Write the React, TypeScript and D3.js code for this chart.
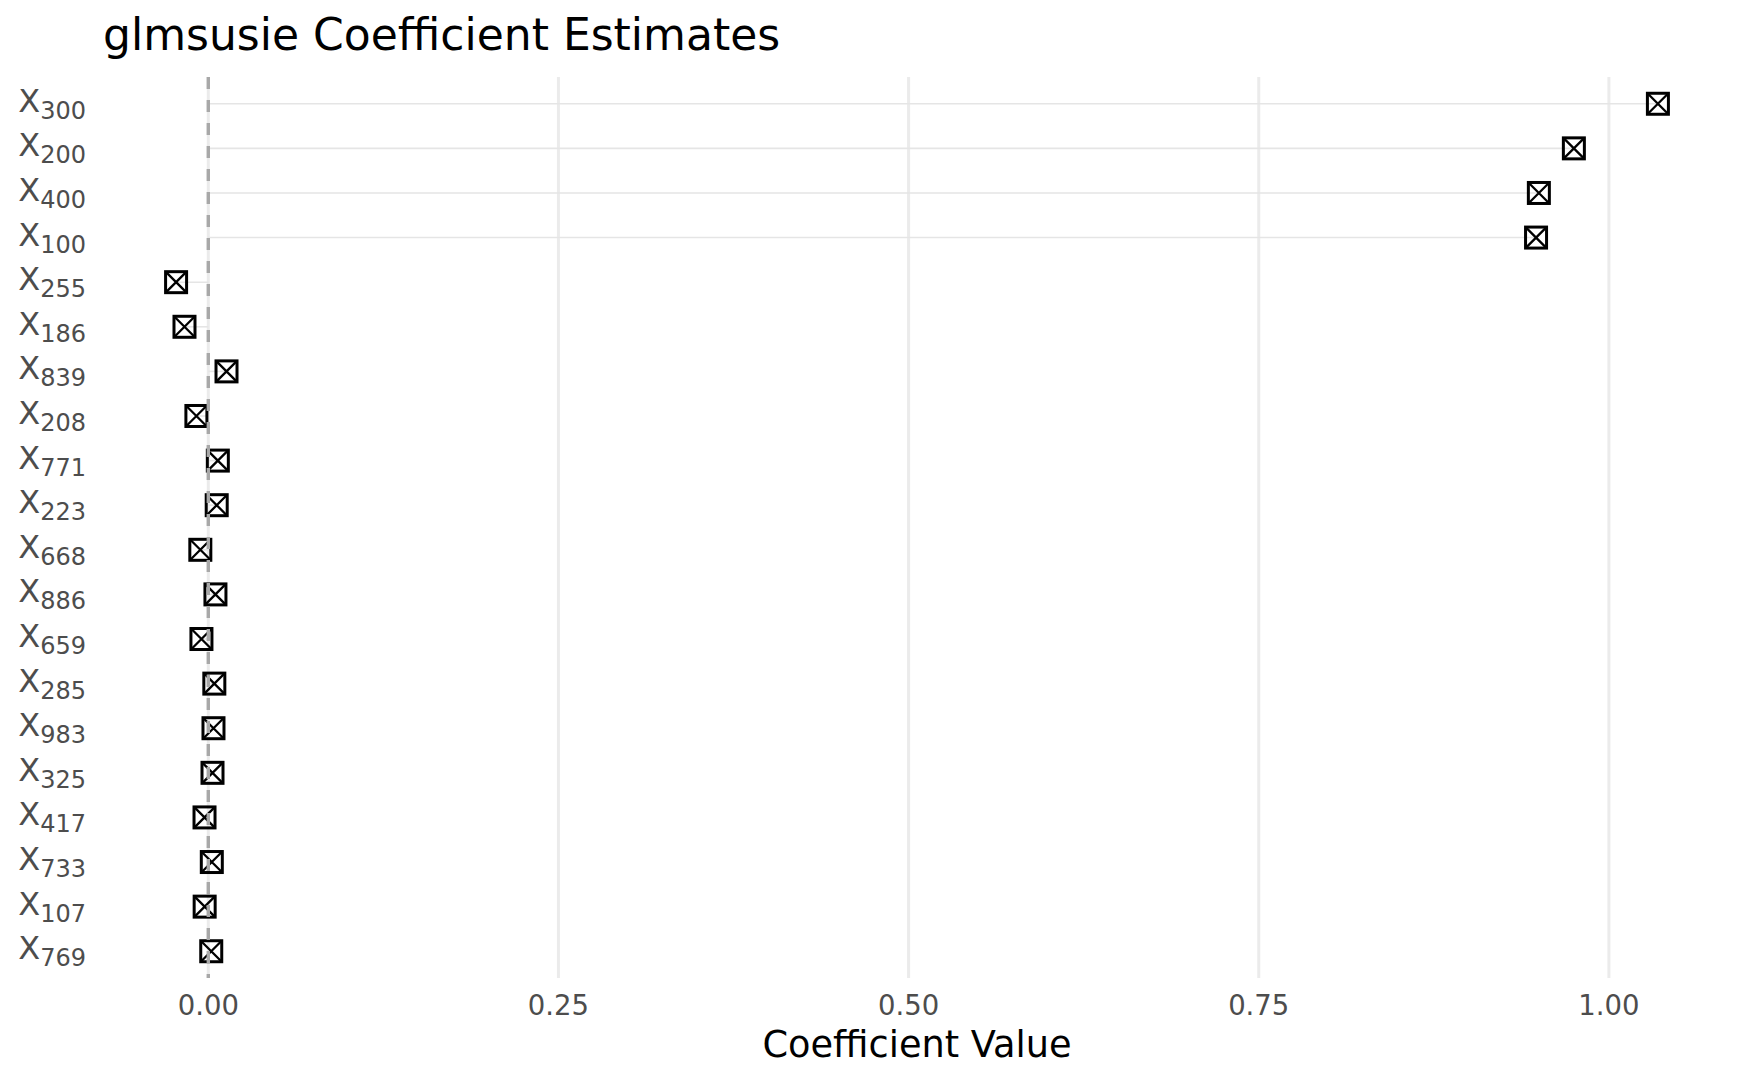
import React, { useEffect, useRef } from 'react';
import * as d3 from 'd3';

// variables, top to bottom
const variables = ['300', '200', '400', '100', '255', '186', '839', '208', '771', '223',
  '668', '886', '659', '285', '983', '325', '417', '733', '107', '769'];

const estimates = [1.035, 0.975, 0.950, 0.948, -0.023, -0.017, 0.013, -0.0085, 0.0068, 0.0060,
  -0.0057, 0.0051, -0.0049, 0.0043, 0.0037, 0.0030, -0.0027, 0.0025, -0.0026, 0.0021];

const xTicks = [0, 0.25, 0.5, 0.75, 1.0];

const W = 1750;
const H = 1081;

const CoefPlot: React.FC = () => {
  const svgRef = useRef<SVGSVGElement>(null);

  useEffect(() => {
    if (!svgRef.current) return;
    document.body.style.margin = '0';

    const left = 102;
    const right = 1732;
    const top = 77;
    const bottom = 978;

    const svg = d3.select(svgRef.current);
    svg.selectAll('*').remove();

    const lo = Math.min(0, d3.min(estimates)!);
    const hi = Math.max(0, d3.max(estimates)!);
    const pad = (hi - lo) * 0.05;

    const x = d3.scaleLinear().domain([lo - pad, hi + pad]).range([left, right]);
    const y = d3.scalePoint<string>().domain(variables).range([top, bottom]).padding(0.6);

    // vertical grid
    svg.append('g')
      .selectAll('line')
      .data(xTicks)
      .join('line')
      .attr('x1', d => x(d)).attr('x2', d => x(d))
      .attr('y1', top).attr('y2', bottom)
      .attr('stroke', '#EBEBEB')
      .attr('stroke-width', 3);

    // segments from zero
    svg.append('g')
      .selectAll('line')
      .data(variables)
      .join('line')
      .attr('x1', x(0))
      .attr('x2', (_, i) => x(estimates[i]))
      .attr('y1', d => y(d)!)
      .attr('y2', d => y(d)!)
      .attr('stroke', '#E5E5E5')
      .attr('stroke-width', 1.6);

    // square-cross markers
    const s = 10.5;
    const pts = svg.append('g')
      .selectAll('g')
      .data(variables)
      .join('g')
      .attr('transform', (d, i) => `translate(${x(estimates[i])},${y(d)})`);
    pts.append('rect')
      .attr('x', -s).attr('y', -s)
      .attr('width', 2 * s).attr('height', 2 * s)
      .attr('fill', 'none')
      .attr('stroke', '#000')
      .attr('stroke-width', 3);
    pts.append('path')
      .attr('d', `M${-s},${-s}L${s},${s}M${-s},${s}L${s},${-s}`)
      .attr('stroke', '#000')
      .attr('stroke-width', 2.3);

    // zero reference line
    svg.append('line')
      .attr('x1', x(0)).attr('x2', x(0))
      .attr('y1', top).attr('y2', bottom)
      .attr('stroke', '#A8A8A8')
      .attr('stroke-width', 3.4)
      .attr('stroke-dasharray', '12 11');

    // y labels with subscripts
    const yl = svg.append('g')
      .selectAll('text')
      .data(variables)
      .join('text')
      .attr('x', 86)
      .attr('y', d => y(d)! + 8)
      .attr('text-anchor', 'end')
      .attr('fill', '#4D4D4D')
      .style('font-family', 'DejaVu Sans')
      .style('font-size', '32px');
    yl.append('tspan').text('X');
    yl.append('tspan')
      .attr('dy', 7)
      .style('font-size', '24px')
      .text(d => d);

    // x tick labels
    svg.append('g')
      .selectAll('text')
      .data(xTicks)
      .join('text')
      .attr('x', d => x(d))
      .attr('y', 1015)
      .attr('text-anchor', 'middle')
      .attr('fill', '#4D4D4D')
      .style('font-family', 'DejaVu Sans')
      .style('font-size', '27.5px')
      .text(d => d3.format('.2f')(d));

    svg.append('text')
      .attr('x', (left + right) / 2)
      .attr('y', 1057)
      .attr('text-anchor', 'middle')
      .attr('fill', '#000')
      .style('font-family', 'DejaVu Sans')
      .style('font-size', '36.7px')
      .text('Coefficient Value');

    svg.append('text')
      .attr('x', left + 1)
      .attr('y', 50)
      .attr('fill', '#000')
      .style('font-family', 'DejaVu Sans')
      .style('font-size', '44px')
      .text('glmsusie Coefficient Estimates');
  }, []);

  return <svg ref={svgRef} width={W} height={H} style={{ display: 'block', background: '#fff' }} />;
};

export default function App() {
  return <CoefPlot />;
}
